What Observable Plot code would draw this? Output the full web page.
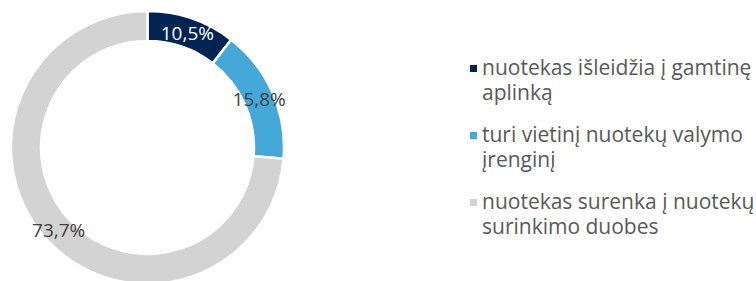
<!DOCTYPE html>
<html>
<head>
<meta charset="utf-8">
<script src="https://cdn.jsdelivr.net/npm/d3@7"></script>
<script src="https://cdn.jsdelivr.net/npm/@observablehq/plot@0.6"></script>
<style>
  html, body { margin: 0; padding: 0; background: #fff; overflow: hidden; }
  #wrap { position: relative; width: 756px; height: 281px; }
  #chart { position: absolute; left: 0; top: 0; }
  #legend { position: absolute; left: 468px; top: 55px; font-family: "Open Sans", sans-serif; font-size: 21px; color: #595959; line-height: 25px; white-space: nowrap; }
  .item { position: relative; padding-left: 14px; margin-bottom: 17px; }
  .sw { position: absolute; left: 2px; top: 10px; width: 7px; height: 7px; }
</style>
</head>
<body>
<div id="wrap"><div id="chart"></div><div id="legend"></div></div>
<script>
const categories = ["nuotekas išleidžia į gamtinę aplinką", "turi vietinį nuotekų valymo įrenginį", "nuotekas surenka į nuotekų surinkimo duobes"];
const legendLines = [["nuotekas išleidžia į gamtinę", "aplinką"], ["turi vietinį nuotekų valymo", "įrenginį"], ["nuotekas surenka į nuotekų", "surinkimo duobes"]];
const values = [10.5, 15.8, 73.7];
const labels = ["10,5%", "15,8%", "73,7%"];
const colors = ["#002451", "#44A9D9", "#D3D3D3"];
const labelColors = ["#ffffff", "#404040", "#404040"];

const innerRatio = 0.78;
const pie = d3.pie().sort(null).value(d => d.value);
const data = categories.map((c, i) => ({category: c, value: values[i], label: labels[i], color: colors[i], labelColor: labelColors[i]}));
const arcs = pie(data);
const labelR = (1 + innerRatio) / 2;
const labelData = arcs.map(a => {
  const mid = (a.startAngle + a.endAngle) / 2;
  return {label: a.data.label, color: a.data.labelColor, x: Math.sin(mid) * labelR, y: Math.cos(mid) * labelR};
});

function donut(index, scales, values, dimensions, context) {
  const cx = scales.x(0), cy = scales.y(0);
  const R = scales.x(1) - scales.x(0);
  const arc = d3.arc().innerRadius(R * innerRatio).outerRadius(R);
  const g = d3.create("svg:g").attr("transform", `translate(${cx},${cy})`);
  g.selectAll("path").data(arcs).join("path")
    .attr("d", arc)
    .attr("fill", d => d.data.color)
    .attr("stroke", "white")
    .attr("stroke-width", 2.5);
  return g.node();
}

const plot = Plot.plot({
  width: 295,
  height: 281,
  marginLeft: 11,
  marginRight: 11,
  marginTop: 11,
  marginBottom: -3,
  x: {domain: [-1, 1], axis: null},
  y: {domain: [-1, 1], axis: null},
  style: {background: "transparent", overflow: "visible"},
  marks: [
    donut,
    Plot.text(labelData, {x: "x", y: "y", text: "label", fill: "color", fontSize: 19, fontFamily: "Open Sans", textAnchor: "middle", dy: 1})
  ]
});
document.getElementById("chart").appendChild(plot);

const legend = document.getElementById("legend");
legendLines.forEach((lines, i) => {
  const item = document.createElement("div");
  item.className = "item";
  const sw = document.createElement("span");
  sw.className = "sw";
  sw.style.background = colors[i];
  item.appendChild(sw);
  lines.forEach((l, j) => {
    const t = document.createElement("div");
    t.textContent = l;
    item.appendChild(t);
  });
  legend.appendChild(item);
});
</script>
</body>
</html>
